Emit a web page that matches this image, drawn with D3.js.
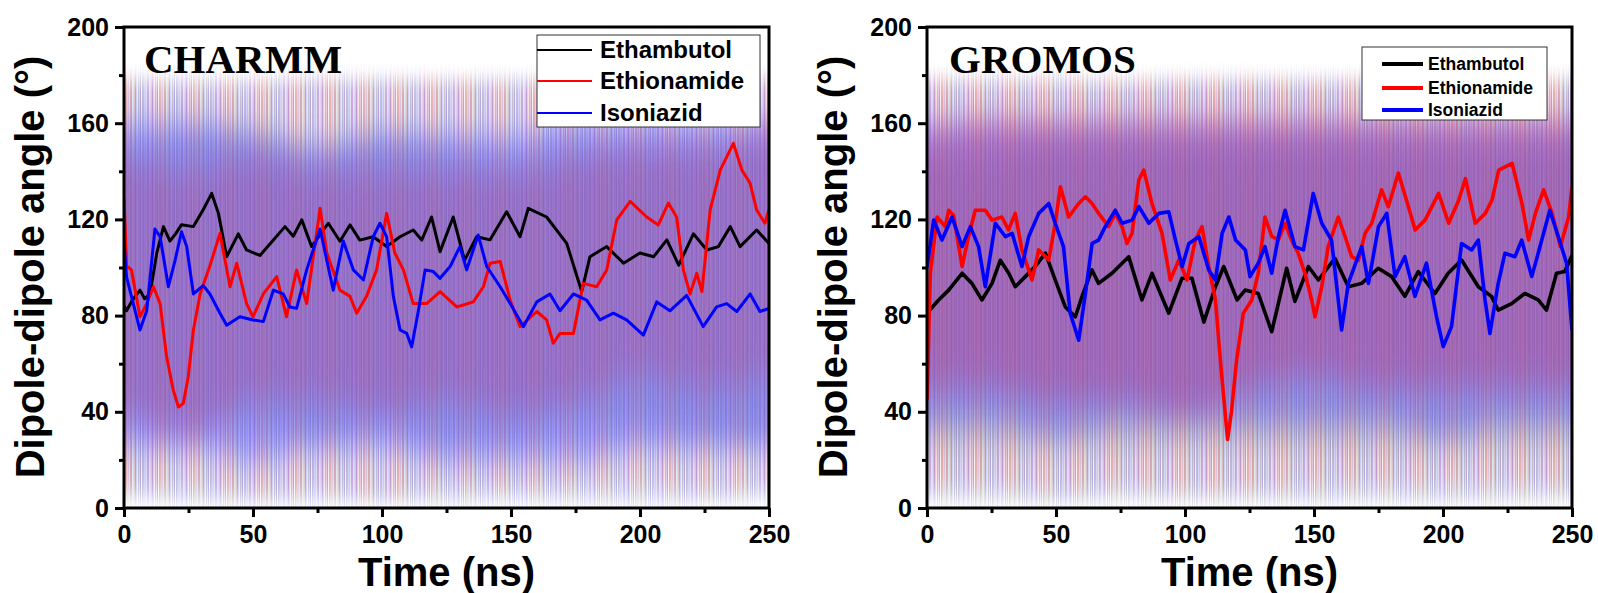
<!DOCTYPE html>
<html>
<head>
<meta charset="utf-8">
<script src="https://cdn.jsdelivr.net/npm/d3@7"></script>
<style>
  body { margin: 0; background: #fff; }
  svg { display: block; font-family: 'Liberation Sans', Arial, sans-serif; }
</style>
</head>
<body>
<svg id="chart" width="1598" height="593"></svg>
<script>
// ---- data ----
var seriesNames = ['Ethambutol', 'Ethionamide', 'Isoniazid'];
var seriesColors = ['#000000', '#ff0000', '#0000ff'];
var rawColors = ['#8c8c8c', '#ff3c3c', '#4646ff'];
var xTicks = [0, 50, 100, 150, 200, 250];
var yTicks = [0, 40, 80, 120, 160, 200];

// times at which the spread of the raw (unsmoothed) traces was estimated
var bandTimes = [0, 25, 50, 75, 100, 125, 150, 175, 200, 225, 250];

// CHARMM raw spread: outer (min/max) and dense core, per drug
var charmmEthambutolOuterHi = [178, 178, 177, 178, 178, 178, 178, 177, 178, 178, 178];
var charmmEthambutolOuterLo = [5, 3, 2, 4, 3, 2, 5, 3, 4, 3, 5];
var charmmEthambutolCoreHi = [150, 155, 158, 150, 155, 150, 145, 150, 148, 150, 150];
var charmmEthambutolCoreLo = [40, 35, 35, 30, 35, 30, 30, 35, 35, 30, 30];
var charmmEthionamideOuterHi = [178, 176, 178, 178, 177, 178, 176, 178, 178, 178, 178];
var charmmEthionamideOuterLo = [8, 10, 6, 8, 5, 10, 8, 10, 10, 8, 10];
var charmmEthionamideCoreHi = [145, 140, 145, 140, 140, 140, 140, 145, 150, 150, 160];
var charmmEthionamideCoreLo = [40, 30, 45, 45, 40, 45, 40, 45, 55, 50, 55];
var charmmIsoniazidOuterHi = [178, 178, 177, 178, 178, 177, 178, 178, 178, 178, 178];
var charmmIsoniazidOuterLo = [5, 3, 3, 2, 3, 3, 2, 3, 2, 3, 5];
var charmmIsoniazidCoreHi = [160, 160, 155, 150, 155, 155, 155, 160, 160, 160, 160];
var charmmIsoniazidCoreLo = [25, 25, 20, 25, 25, 20, 20, 20, 25, 25, 25];

// GROMOS raw spread
var gromosEthambutolOuterHi = [178, 178, 178, 177, 178, 178, 178, 178, 177, 178, 178];
var gromosEthambutolOuterLo = [3, 2, 2, 3, 2, 2, 3, 2, 3, 2, 3];
var gromosEthambutolCoreHi = [145, 145, 150, 150, 150, 150, 150, 150, 150, 150, 150];
var gromosEthambutolCoreLo = [25, 25, 25, 25, 25, 25, 25, 25, 25, 25, 25];
var gromosEthionamideOuterHi = [178, 178, 178, 178, 178, 178, 177, 178, 178, 178, 178];
var gromosEthionamideOuterLo = [10, 10, 8, 10, 8, 8, 10, 10, 10, 10, 10];
var gromosEthionamideCoreHi = [155, 160, 160, 160, 160, 160, 160, 160, 160, 160, 160];
var gromosEthionamideCoreLo = [50, 50, 45, 45, 40, 50, 55, 50, 50, 50, 50];
var gromosIsoniazidOuterHi = [178, 178, 178, 177, 178, 178, 178, 178, 178, 177, 178];
var gromosIsoniazidOuterLo = [5, 5, 3, 5, 5, 5, 3, 5, 3, 5, 5];
var gromosIsoniazidCoreHi = [160, 160, 160, 160, 160, 160, 160, 160, 160, 160, 160];
var gromosIsoniazidCoreLo = [35, 35, 30, 35, 35, 35, 35, 35, 30, 35, 35];

// smoothed traces, [time (ns), angle (deg)]
var charmmEthambutol = [[0,84],[1,82],[3,86],[6.2,90.6],[8,87],[10.1,89],[12.7,106],[15.3,117],[17.8,111],[20,114],[22.3,117.8],[26.9,117],[30.7,124],[34,130.8],[36.6,122.5],[39.8,104.5],[44.3,114],[47.5,107.3],[52.7,105],[57.9,111.4],[62.4,117],[65.6,113],[68.9,119.8],[72.7,108.7],[79.2,118.4],[83.7,110.9],[87.6,117.7],[91.4,111.4],[96.6,112.8],[101.8,108.7],[107,112.8],[112.1,115.6],[115.4,111.4],[119.2,121],[122.5,106.6],[127.6,121],[132,103],[136.7,112.8],[141.9,111.5],[148.3,123.2],[153.5,112.8],[156.7,124.6],[163.8,121],[171.6,110],[174.5,100],[177.4,90],[180.6,104.5],[187.1,108.7],[193.6,101.8],[200,106],[205.3,104.5],[210.4,111.5],[215,101],[220.7,114],[225.9,107.3],[230.4,108.7],[235,117],[238.8,108.7],[245.2,115.6],[250,110]];
var charmmEthionamide = [[0,129],[1,100.7],[2.9,99],[6.2,79.5],[8.8,85],[11.4,92],[14,85],[16.5,63],[19.1,49],[21.1,42],[23,43.5],[24.9,54.6],[26.9,74],[29.5,89],[33.3,100.7],[37.2,114.2],[41.1,92],[43.7,101.8],[47.5,85],[50,79.5],[54,89],[59.2,96.2],[63,79.5],[66.9,99],[70.8,85],[76,124.6],[78.6,106],[83.7,90.6],[87.6,88],[90.2,81],[94,88],[97.9,99],[101.8,122.5],[105,106],[108.3,99],[112.1,85],[117.3,85],[122.5,90],[129,83.6],[135.4,85.7],[139.3,92],[141.9,101.8],[145.8,102.5],[149.7,86.4],[153.5,75.4],[160,81.7],[163.8,78.2],[166.4,68.5],[169,72.6],[174.2,72.6],[178,93.4],[183.2,92],[187.1,99],[191,119.8],[196.2,127.5],[202.6,121],[207.1,117.7],[211,126.8],[214.2,121],[216.8,99],[219.4,89],[222,97.6],[224,90],[227.2,124],[231.1,140.5],[236.2,151.6],[239.5,140.5],[242.7,135],[245.2,124],[248.4,118.4],[250,124]];
var charmmIsoniazid = [[0,111],[1,96],[3.6,85],[6.2,74],[8.8,82],[12,116],[14,112.8],[17.2,92],[19.8,103],[22.3,114.9],[24.3,108.7],[26.9,89],[30.7,92.5],[33.3,89],[37.2,81],[39.8,76],[44.9,79.5],[50,78.2],[54,77.5],[57.9,90.6],[61.7,89],[64.3,83.6],[66.9,83],[70.8,99],[76,116],[78.6,103],[81.1,90.6],[85,111],[88.9,99],[92.8,94.8],[96.6,112.8],[99.2,118.4],[101.8,112.8],[104.4,88],[107,74],[109.6,72.6],[111.5,67],[114.1,82],[116.7,99],[119.9,98.3],[122.5,95.5],[126.4,100.4],[130.2,108.7],[132.8,99],[137.3,113.5],[140.6,100.4],[145.8,92],[149.7,85],[154.8,75.4],[160,85.7],[165.1,89],[169,82],[174.2,89],[179.3,86.4],[184.5,78.2],[189.7,81],[194.8,78.2],[201.3,71.9],[206.5,85.7],[211.6,82],[218.1,88.4],[224.5,75.4],[229.7,83.6],[233.6,85],[237.5,81.7],[242.7,89],[246.5,81.7],[250,83]];

var gromosEthambutol = [[0,81],[4.5,86.5],[8.4,90.6],[13.6,97.6],[17.4,93.4],[21.3,86.5],[25.2,93.4],[28.4,103],[31.7,97.6],[34.2,92],[38.1,96.2],[41.9,100.4],[45.9,106],[49.7,94.8],[53.6,83.6],[57.5,79.5],[60.1,88],[63.9,99],[66.5,93.4],[71.7,97.6],[78.2,104.5],[83.3,86.5],[87.2,97.6],[93.7,81],[98.8,95.5],[102.7,95.5],[107.3,77.3],[111.8,92],[115,100.4],[120.2,86.5],[123.3,90.6],[128.4,89.2],[133.6,73.3],[139.4,99.7],[142.6,85.9],[147.8,100.4],[151.7,94.8],[158.1,103.8],[163.3,92],[168.5,93.4],[174.9,99.7],[180.1,96.2],[185.2,88],[190.4,98.3],[196.9,89.2],[202,97.6],[207.2,103.1],[213.7,92],[218.8,88],[221.4,82.3],[226.6,85],[231.7,89.2],[236.9,86.5],[240.1,82.3],[244,97.6],[247.2,98.3],[250,105]];
var gromosEthionamide = [[0,45],[1.3,97.6],[3.9,121],[7.1,117],[8.4,123.8],[10.3,121.7],[13.6,100.4],[16.1,112.8],[18.7,123.8],[22.6,123.8],[25.2,119.7],[29,121],[31.6,115.6],[34.2,122.5],[36.8,107.3],[39.4,99],[40.7,94.8],[43.3,107.3],[47.2,103.1],[49.7,118.4],[51.7,133.6],[54.9,121],[58.8,126.6],[61.4,129.4],[64,126.6],[66.5,122.5],[70.4,117],[73,122.5],[75.6,117],[77.5,110],[79.5,114.2],[82.1,136.4],[84,140.5],[87.2,126.6],[91.1,114.2],[94.3,94.8],[97.6,103.1],[100.8,94.8],[104,111.4],[106.6,117],[109.2,100.4],[111.8,86.5],[113.7,61.5],[116.5,28.5],[118,40],[120,61.5],[122.6,81],[125.9,86.5],[128.4,97.6],[131,121],[133.6,113],[136.2,111.4],[138.8,118.4],[141.3,111.4],[143.9,105.9],[146.5,97.6],[149.1,86.5],[150.4,79.5],[153,92],[155.5,108.7],[159.4,121],[162,113],[164.6,104.5],[167.2,103],[169.8,114.2],[172.4,118.4],[176.2,132.3],[178.8,125.3],[182.7,139.3],[186.6,125.3],[189.2,115.6],[193.1,119.8],[198.3,130.8],[202.2,118.4],[206.1,128],[208.7,137],[212.5,118.4],[216.4,122.5],[219,128],[221.6,140.5],[226.8,143.3],[230.6,126.6],[233.2,111.4],[235.8,122.5],[239,132.3],[242.3,122.5],[245.5,108.7],[248.7,121],[250,133.6]];
var gromosIsoniazid = [[0,100],[2.6,119.7],[5.8,111.4],[9.7,121],[13.6,108.7],[16.8,117],[20,108.7],[22.6,92],[26.5,118.4],[30.4,112.8],[33,114.2],[36.8,100.4],[39.4,112.8],[43.3,122.5],[47.2,126.6],[49.7,118.4],[52.9,108.7],[55.5,81],[58.8,69.8],[61.4,89.2],[64,110],[66.5,111.4],[69.1,117],[73,123.8],[75.6,118.4],[79.5,119.7],[82.1,125.3],[86,118.4],[89.9,122.5],[93.7,123.2],[96.3,111.4],[98.9,100.4],[101.5,110],[105.4,112.8],[109.2,99],[111.8,94.8],[114.4,114.2],[117,121],[119.6,111.4],[123.4,107.3],[125.2,96.2],[128.4,101.8],[131,108.7],[133.6,97.6],[136.2,112.8],[138.8,123.8],[142.6,108.7],[145.9,107.3],[149.7,130.8],[153,118.4],[156.8,111.4],[160.7,74],[163.3,93.4],[168.5,108.7],[171.1,93.4],[175,117],[178.2,122.5],[181.4,96.2],[185.2,104.5],[189.1,88],[193.6,101.8],[197.5,79.5],[200.1,67.1],[203.3,75.4],[207.2,110],[211.1,107.3],[213.7,111.4],[216.3,86.5],[218.2,72.6],[221.4,93.4],[224,105.9],[227.9,104.5],[230.5,111.4],[234.4,96.2],[236.9,105.9],[241.4,123.8],[244.7,112.8],[247.9,101.8],[250,74]];

var svg = d3.select('#chart');
var defs = svg.append('defs');

// vertical-only blurs, they soften the top and bottom of the raw spread
[['vblurCore', '0.5 16'], ['vblurOuter', '0.3 9']].forEach(function(f) {
  defs.append('filter').attr('id', f[0])
    .attr('x', '-5%').attr('y', '-20%').attr('width', '110%').attr('height', '140%')
    .append('feGaussianBlur').attr('stdDeviation', f[1]);
});

// streaky texture that stands in for the dense raw spikes
function makeStripes(id, color, shift) {
  var p = defs.append('pattern')
    .attr('id', id)
    .attr('patternUnits', 'userSpaceOnUse')
    .attr('width', 17).attr('height', 600)
    .attr('patternTransform', 'translate(' + shift + ',0)');
  [[0, 1, 1], [2, 1.2, 0.5], [4, 1.8, 0.85], [7, 0.8, 0.35], [8.6, 1.4, 0.95], [11, 1, 0.45], [13, 1.6, 0.7], [15.6, 0.8, 0.3]].forEach(function(s) {
    p.append('rect').attr('x', s[0]).attr('y', 0).attr('width', s[1]).attr('height', 600)
      .attr('fill', color).attr('fill-opacity', s[2]);
  });
}

function drawPanel(cfg) {
  var x = d3.scaleLinear().domain([0, 250]).range([cfg.left, cfg.right]);
  var y = d3.scaleLinear().domain([0, 200]).range([508, 27]);
  var g = svg.append('g');

  var clipId = 'clip-' + cfg.key;
  defs.append('clipPath').attr('id', clipId).append('rect')
    .attr('x', cfg.left).attr('y', 27).attr('width', cfg.right - cfg.left).attr('height', 481);

  var plot = g.append('g').attr('clip-path', 'url(#' + clipId + ')');

  var area = d3.area()
    .x(function(d) { return x(d[0]); })
    .y0(function(d) { return y(d[1]); })
    .y1(function(d) { return y(d[2]); })
    .curve(d3.curveMonotoneX);

  // raw spread: streaky outer envelopes first, then the blurred dense cores
  cfg.bands.forEach(function(b, i) {
    var pid = 'stripe-' + cfg.key + '-' + i;
    makeStripes(pid, rawColors[i], i * 5 + 2);
    var outer = bandTimes.map(function(t, k) { return [t, b.outerLo[k], b.outerHi[k]]; });
    plot.append('path').attr('d', area(outer))
      .attr('fill', 'url(#' + pid + ')').attr('opacity', cfg.outerOpacity[i])
      .attr('filter', 'url(#vblurOuter)');
  });
  cfg.bands.forEach(function(b, i) {
    var core = bandTimes.map(function(t, k) { return [t, b.coreLo[k], b.coreHi[k]]; });
    plot.append('path').attr('d', area(core))
      .attr('fill', rawColors[i]).attr('opacity', cfg.coreOpacity[i])
      .attr('filter', 'url(#vblurCore)');
  });

  // smoothed traces
  var line = d3.line()
    .x(function(d) { return x(d[0]); })
    .y(function(d) { return y(d[1]); });
  cfg.lines.forEach(function(data, i) {
    plot.append('path').attr('d', line(data))
      .attr('fill', 'none').attr('stroke', seriesColors[i])
      .attr('stroke-width', cfg.lineWidth).attr('stroke-linejoin', 'round');
  });

  // frame
  g.append('rect')
    .attr('x', cfg.left).attr('y', 27)
    .attr('width', cfg.right - cfg.left).attr('height', 481)
    .attr('fill', 'none').attr('stroke', '#000').attr('stroke-width', 3);

  // axes
  var xAxis = d3.axisBottom(x).tickValues(xTicks).tickSize(9).tickPadding(8).tickFormat(d3.format('d'));
  var xMinor = d3.axisBottom(x).tickValues([25, 75, 125, 175, 225]).tickSize(5).tickFormat('');
  var yAxis = d3.axisLeft(y).tickValues(yTicks).tickSize(9).tickPadding(6).tickFormat(d3.format('d'));
  var yMinor = d3.axisLeft(y).tickValues([20, 60, 100, 140, 180]).tickSize(5).tickFormat('');

  [[xAxis, 'bottom'], [xMinor, 'bottom'], [yAxis, 'left'], [yMinor, 'left']].forEach(function(a) {
    var ax = g.append('g')
      .attr('transform', a[1] === 'bottom' ? 'translate(0,508)' : 'translate(' + cfg.left + ',0)')
      .call(a[0]);
    ax.select('.domain').remove();
    ax.selectAll('line').attr('stroke', '#000').attr('stroke-width', 3);
    ax.selectAll('text').attr('fill', '#000')
      .style('font-size', '25px').style('font-weight', 'bold')
      .style('font-family', "'Liberation Sans', Arial, sans-serif");
  });

  // axis titles
  g.append('text')
    .attr('x', (cfg.left + cfg.right) / 2).attr('y', 586)
    .attr('text-anchor', 'middle')
    .style('font-size', '40px').style('font-weight', 'bold')
    .text('Time (ns)');
  g.append('text')
    .attr('transform', 'translate(' + cfg.ytitleX + ',' + 267 + ') rotate(-90)')
    .attr('text-anchor', 'middle')
    .style('font-size', '40px').style('font-weight', 'bold')
    .text('Dipole-dipole angle (\u00b0)');

  // force-field label
  g.append('text')
    .attr('x', cfg.labelX).attr('y', 73)
    .style('font-family', "'Liberation Serif', 'Times New Roman', serif")
    .style('font-size', '41px').style('font-weight', 'bold')
    .text(cfg.title);

  // legend
  var L = cfg.legend;
  var lg = g.append('g');
  lg.append('rect')
    .attr('x', L.x).attr('y', L.y).attr('width', L.w).attr('height', L.h)
    .attr('fill', '#fff').attr('stroke', '#333').attr('stroke-width', 1);
  seriesNames.forEach(function(name, i) {
    var cy = L.rowY[i];
    lg.append('line')
      .attr('x1', L.lineX1).attr('x2', L.lineX2).attr('y1', cy).attr('y2', cy)
      .attr('stroke', seriesColors[i]).attr('stroke-width', L.lineWidth);
    lg.append('text')
      .attr('x', L.textX).attr('y', cy).attr('dy', '0.35em')
      .style('font-size', L.fontSize + 'px').style('font-weight', 'bold')
      .text(name);
  });
}

drawPanel({
  key: 'charmm', title: 'CHARMM', left: 124, right: 769, ytitleX: 44, labelX: 144,
  lineWidth: 3,
  outerOpacity: [0.42, 0.26, 0.32], coreOpacity: [0.3, 0.3, 0.42],
  bands: [
    { outerHi: charmmEthambutolOuterHi, outerLo: charmmEthambutolOuterLo, coreHi: charmmEthambutolCoreHi, coreLo: charmmEthambutolCoreLo },
    { outerHi: charmmEthionamideOuterHi, outerLo: charmmEthionamideOuterLo, coreHi: charmmEthionamideCoreHi, coreLo: charmmEthionamideCoreLo },
    { outerHi: charmmIsoniazidOuterHi, outerLo: charmmIsoniazidOuterLo, coreHi: charmmIsoniazidCoreHi, coreLo: charmmIsoniazidCoreLo }
  ],
  lines: [charmmEthambutol, charmmEthionamide, charmmIsoniazid],
  legend: { x: 537, y: 35, w: 223, h: 92, rowY: [50, 81, 113], lineX1: 537, lineX2: 592,
            textX: 600, fontSize: 24, lineWidth: 2.2 }
});

drawPanel({
  key: 'gromos', title: 'GROMOS', left: 927, right: 1572, ytitleX: 847, labelX: 949,
  lineWidth: 3.6,
  outerOpacity: [0.45, 0.28, 0.3], coreOpacity: [0.3, 0.44, 0.4],
  bands: [
    { outerHi: gromosEthambutolOuterHi, outerLo: gromosEthambutolOuterLo, coreHi: gromosEthambutolCoreHi, coreLo: gromosEthambutolCoreLo },
    { outerHi: gromosEthionamideOuterHi, outerLo: gromosEthionamideOuterLo, coreHi: gromosEthionamideCoreHi, coreLo: gromosEthionamideCoreLo },
    { outerHi: gromosIsoniazidOuterHi, outerLo: gromosIsoniazidOuterLo, coreHi: gromosIsoniazidCoreHi, coreLo: gromosIsoniazidCoreLo }
  ],
  lines: [gromosEthambutol, gromosEthionamide, gromosIsoniazid],
  legend: { x: 1362, y: 47, w: 185, h: 73, rowY: [64, 88, 110], lineX1: 1382, lineX2: 1423,
            textX: 1428, fontSize: 17.5, lineWidth: 4 }
});
</script>
</body>
</html>
